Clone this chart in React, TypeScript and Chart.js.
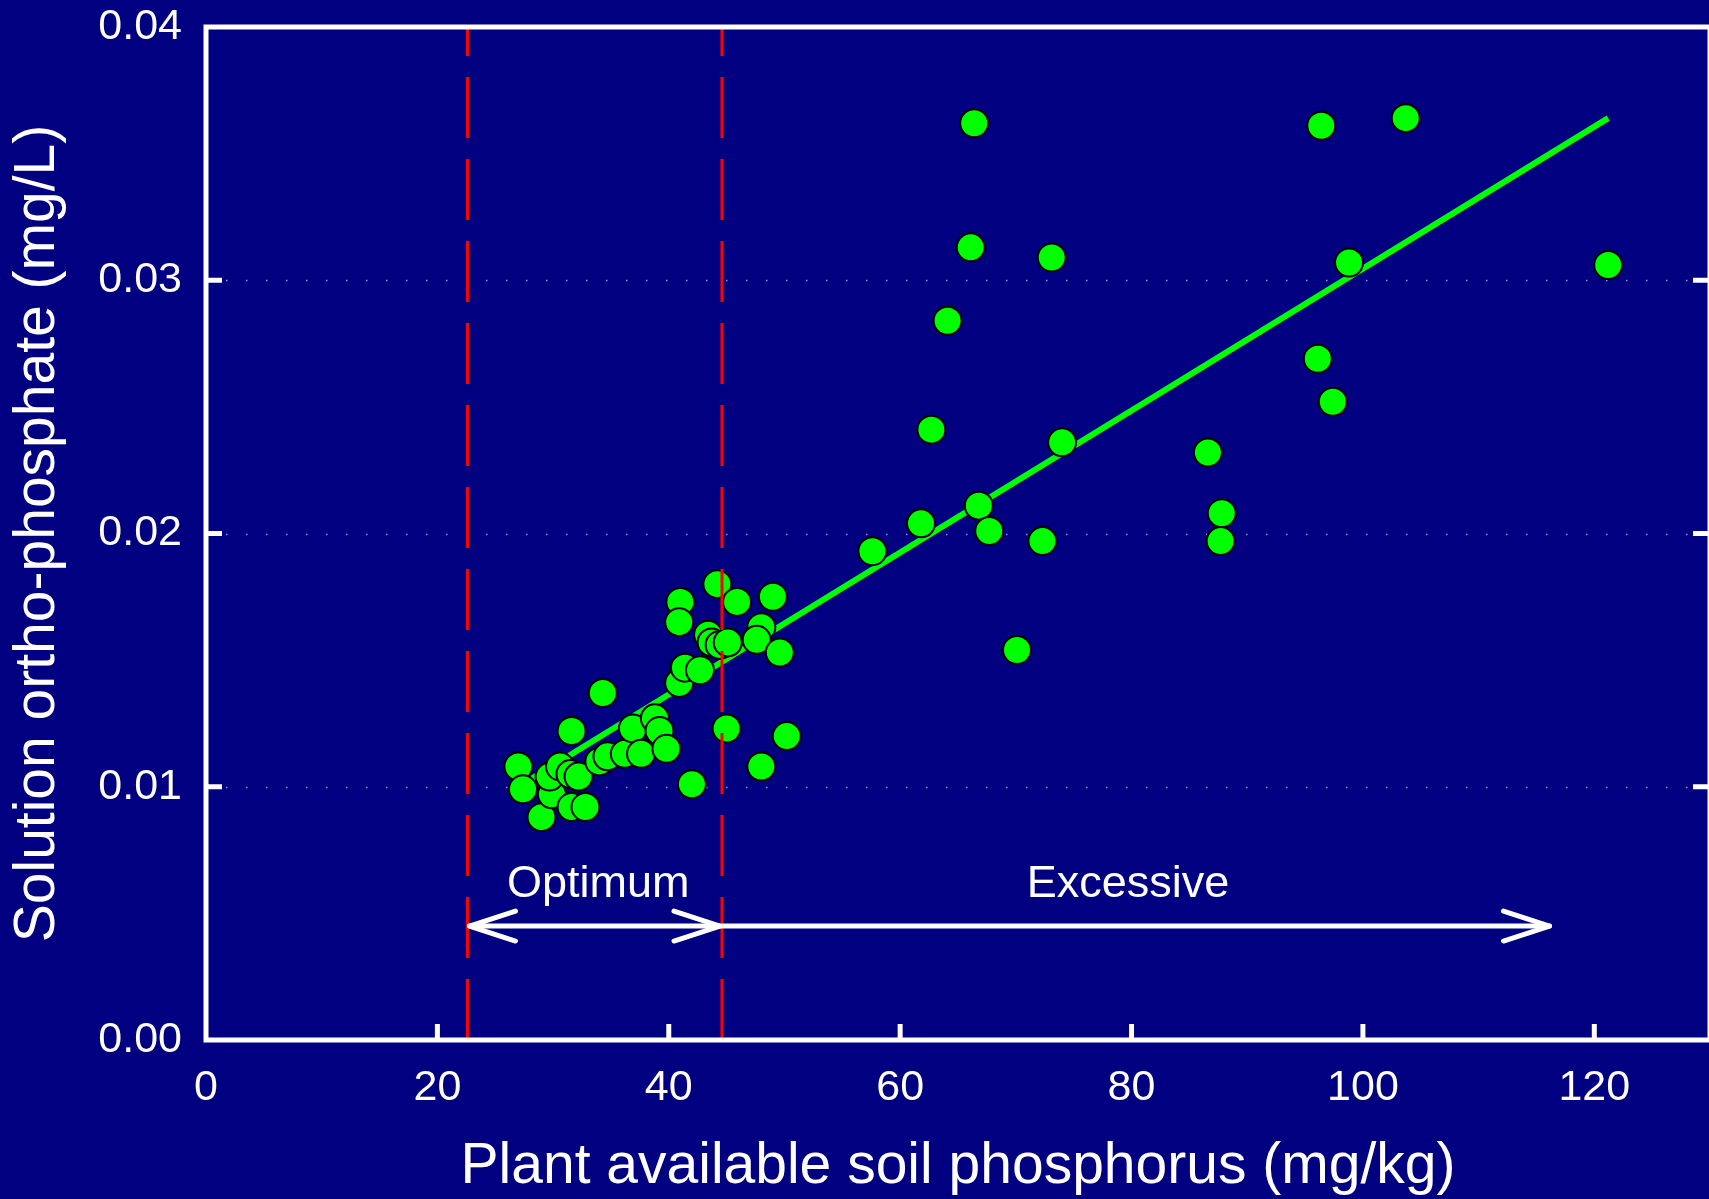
import React, { useEffect, useRef } from 'react';
import { Chart, registerables } from 'chart.js';

Chart.register(...registerables);

// Plant available soil phosphorus (mg/kg)
const soilP = [
  27.0, 27.4, 29.0, 29.9, 29.7, 30.6, 31.5, 31.6, 31.6, 32.2,
  32.8, 34.0, 34.3, 34.7, 36.2, 36.9, 37.6, 38.8, 39.2, 39.8,
  40.9, 41.4, 42.7, 42.0, 41.0, 40.9, 43.4, 43.7, 44.4, 45.1,
  44.2, 45.9, 49.0, 48.0, 47.6, 49.6, 45.0, 48.0, 50.2, 57.6,
  61.8, 62.7, 64.1, 66.1, 66.4, 66.8, 67.7, 70.1, 72.3, 73.1,
  74.0, 86.6, 87.8, 87.7, 96.1, 96.4, 97.4, 98.8, 103.7, 121.2,
];
// Solution ortho-phosphate (mg/L)
const orthoP = [
  0.0108, 0.0099, 0.0088, 0.0097, 0.0104, 0.0108, 0.0105, 0.0122, 0.0092, 0.0104,
  0.0092, 0.0110, 0.0137, 0.0112, 0.0113, 0.0123, 0.0113, 0.0127, 0.0122, 0.0115,
  0.0141, 0.0147, 0.0146, 0.0101, 0.0173, 0.0165, 0.0160, 0.0157, 0.0156, 0.0157,
  0.0180, 0.0173, 0.0175, 0.0163, 0.0158, 0.0153, 0.0123, 0.0108, 0.0120, 0.0193,
  0.0204, 0.0241, 0.0284, 0.0313, 0.0362, 0.0211, 0.0201, 0.0154, 0.0197, 0.0309,
  0.0236, 0.0232, 0.0208, 0.0197, 0.0269, 0.0361, 0.0252, 0.0307, 0.0364, 0.0306,
];

// Regression line end points
const fitX = [27.0, 121.2];
const fitY = [0.0100, 0.0364];

// Range boundaries (red dashed lines)
const boundaryX = [22.6, 44.6];
const yRange = [0, 0.04];
const xRange = [0, 130];

// Range arrows and labels
const arrowY = 0.0045;
const optimumRange = [22.6, 44.6];
const excessiveRange = [44.6, 116.3];
const rangeLabels = ['Optimum', 'Excessive'];
const rangeLabelX = [33.9, 79.7];
const rangeLabelY = 0.00566;

const xTitle = 'Plant available soil phosphorus (mg/kg)';
const yTitle = 'Solution ortho-phosphate (mg/L)';

const FONT = "'Liberation Sans', Arial, Helvetica, sans-serif";
const NAVY = '#000080';
const WHITE = '#ffffff';
const GREEN = '#00ff00';

const overlayPlugin = {
  id: 'overlay',
  beforeDatasetsDraw(chart: any) {
    const { ctx, chartArea } = chart;
    const y = chart.scales.y;
    ctx.save();
    ctx.strokeStyle = 'rgba(185,185,225,0.8)';
    ctx.lineWidth = 1.5;
    ctx.setLineDash([1.5, 18.5]);
    y.ticks
      .map((t: any) => t.value)
      .filter((v: number) => v > yRange[0] + 1e-9 && v < yRange[1] - 1e-9)
      .forEach((v: number) => {
        const py = Math.round(y.getPixelForValue(v)) + 0.5;
        ctx.beginPath();
        ctx.moveTo(chartArea.left, py);
        ctx.lineTo(chartArea.right, py);
        ctx.stroke();
      });
    ctx.restore();
  },
  afterDatasetsDraw(chart: any) {
    const { ctx, chartArea } = chart;
    const x = chart.scales.x;
    const y = chart.scales.y;
    const { left, right, top, bottom } = chartArea;
    ctx.save();
    ctx.setLineDash([]);
    ctx.strokeStyle = WHITE;
    ctx.lineCap = 'butt';

    // inward tick marks
    ctx.lineWidth = 5;
    x.ticks
      .map((t: any) => t.value)
      .filter((v: number) => v > xRange[0] && v < xRange[1])
      .forEach((v: number) => {
        const px = x.getPixelForValue(v);
        ctx.beginPath();
        ctx.moveTo(px, bottom);
        ctx.lineTo(px, bottom - 16);
        ctx.stroke();
      });
    y.ticks
      .map((t: any) => t.value)
      .filter((v: number) => v > yRange[0] + 1e-9 && v < yRange[1] - 1e-9)
      .forEach((v: number) => {
        const py = y.getPixelForValue(v);
        ctx.beginPath();
        ctx.moveTo(left, py);
        ctx.lineTo(left + 16, py);
        ctx.moveTo(right, py);
        ctx.lineTo(right - 17, py);
        ctx.stroke();
      });

    // frame
    ctx.lineWidth = 5;
    ctx.strokeRect(left, top, right - left, bottom - top);

    // arrows
    const ay = y.getPixelForValue(arrowY);
    ctx.lineWidth = 5;
    ctx.lineJoin = 'round';
    ctx.lineCap = 'round';
    const chevron = (tipX: number, dir: number) => {
      ctx.beginPath();
      ctx.moveTo(tipX - dir * 46, ay - 15);
      ctx.lineTo(tipX, ay);
      ctx.lineTo(tipX - dir * 46, ay + 15);
      ctx.stroke();
    };
    const o0 = x.getPixelForValue(optimumRange[0]);
    const o1 = x.getPixelForValue(optimumRange[1]);
    const e0 = x.getPixelForValue(excessiveRange[0]);
    const e1 = x.getPixelForValue(excessiveRange[1]);
    ctx.beginPath();
    ctx.moveTo(o0 + 2, ay);
    ctx.lineTo(o1 - 2, ay);
    ctx.moveTo(e0, ay);
    ctx.lineTo(e1 - 2, ay);
    ctx.stroke();
    chevron(o0 + 2, -1);
    chevron(o1 - 2, 1);
    chevron(e1 - 2, 1);

    // range labels
    ctx.fillStyle = WHITE;
    ctx.font = `45px ${FONT}`;
    ctx.textAlign = 'center';
    ctx.textBaseline = 'alphabetic';
    rangeLabels.forEach((txt, i) => {
      ctx.fillText(txt, x.getPixelForValue(rangeLabelX[i]), y.getPixelForValue(rangeLabelY));
    });
    ctx.restore();
  },
};

export default function App() {
  const canvasRef = useRef<HTMLCanvasElement | null>(null);

  useEffect(() => {
    const canvas = canvasRef.current;
    if (!canvas) return;
    const points = soilP.map((v, i) => ({ x: v, y: orthoP[i] }));
    const boundaryDataset = (bx: number) => ({
      type: 'scatter' as const,
      data: [
        { x: bx, y: yRange[0] },
        { x: bx, y: yRange[1] },
      ],
      showLine: true,
      borderColor: '#ff0000',
      borderWidth: 3,
      borderDash: [61, 21],
      pointRadius: 0,
      pointHoverRadius: 0,
      fill: false,
    });
    const chart = new Chart(canvas, {
      type: 'scatter',
      data: {
        datasets: [
          { ...boundaryDataset(boundaryX[0]), order: 0 },
          { ...boundaryDataset(boundaryX[1]), order: 1 },
          {
            data: points,
            backgroundColor: GREEN,
            borderColor: '#000000',
            borderWidth: 2,
            pointRadius: 14,
            pointHoverRadius: 14,
            order: 2,
          },
          {
            data: fitX.map((v, i) => ({ x: v, y: fitY[i] })),
            showLine: true,
            borderColor: GREEN,
            borderWidth: 6,
            pointRadius: 0,
            pointHoverRadius: 0,
            fill: false,
            order: 3,
          },
        ] as any,
      },
      options: {
        animation: false,
        responsive: false,
        devicePixelRatio: 1,
        events: [],
        layout: { autoPadding: false, padding: { top: 27, right: 3, left: 0, bottom: 0 } },
        plugins: {
          legend: { display: false },
          tooltip: { enabled: false },
        },
        scales: {
          x: {
            type: 'linear',
            min: xRange[0],
            max: xRange[1],
            grid: { display: false, drawTicks: false },
            border: { display: false },
            ticks: {
              stepSize: 20,
              includeBounds: false,
              color: WHITE,
              padding: 22,
              maxRotation: 0,
              autoSkip: false,
              font: { family: FONT, size: 43 },
            },
            title: {
              display: true,
              text: xTitle,
              color: WHITE,
              font: { family: FONT, size: 57, lineHeight: 1.1 },
              padding: { top: 0, bottom: 0 },
            },
            afterFit: (s: any) => {
              s.height = 159;
              s.paddingLeft = 0;
              s.paddingRight = 0;
              s.paddingTop = 0;
              s.paddingBottom = 0;
            },
          },
          y: {
            type: 'linear',
            min: yRange[0],
            max: yRange[1],
            grid: { display: false, drawTicks: false },
            border: { display: false },
            ticks: {
              stepSize: 0.01,
              color: WHITE,
              padding: 24,
              font: { family: FONT, size: 43 },
              callback: (v: any) => Number(v).toFixed(2),
            },
            title: {
              display: true,
              text: yTitle,
              color: WHITE,
              font: { family: FONT, size: 57, lineHeight: 1.1 },
              padding: { top: 7, bottom: 0 },
            },
            afterFit: (s: any) => {
              s.width = 206;
              s.paddingLeft = 0;
              s.paddingRight = 0;
              s.paddingTop = 0;
              s.paddingBottom = 0;
            },
          },
        },
      } as any,
      plugins: [overlayPlugin],
    });
    return () => chart.destroy();
  }, []);

  return (
    <div
      style={{
        position: 'fixed',
        left: 0,
        top: 0,
        width: 1709,
        height: 1199,
        overflow: 'hidden',
        background: NAVY,
      }}
    >
      <canvas
        ref={canvasRef}
        width={1713}
        height={1199}
        style={{ display: 'block', width: 1713, height: 1199 }}
      />
    </div>
  );
}
